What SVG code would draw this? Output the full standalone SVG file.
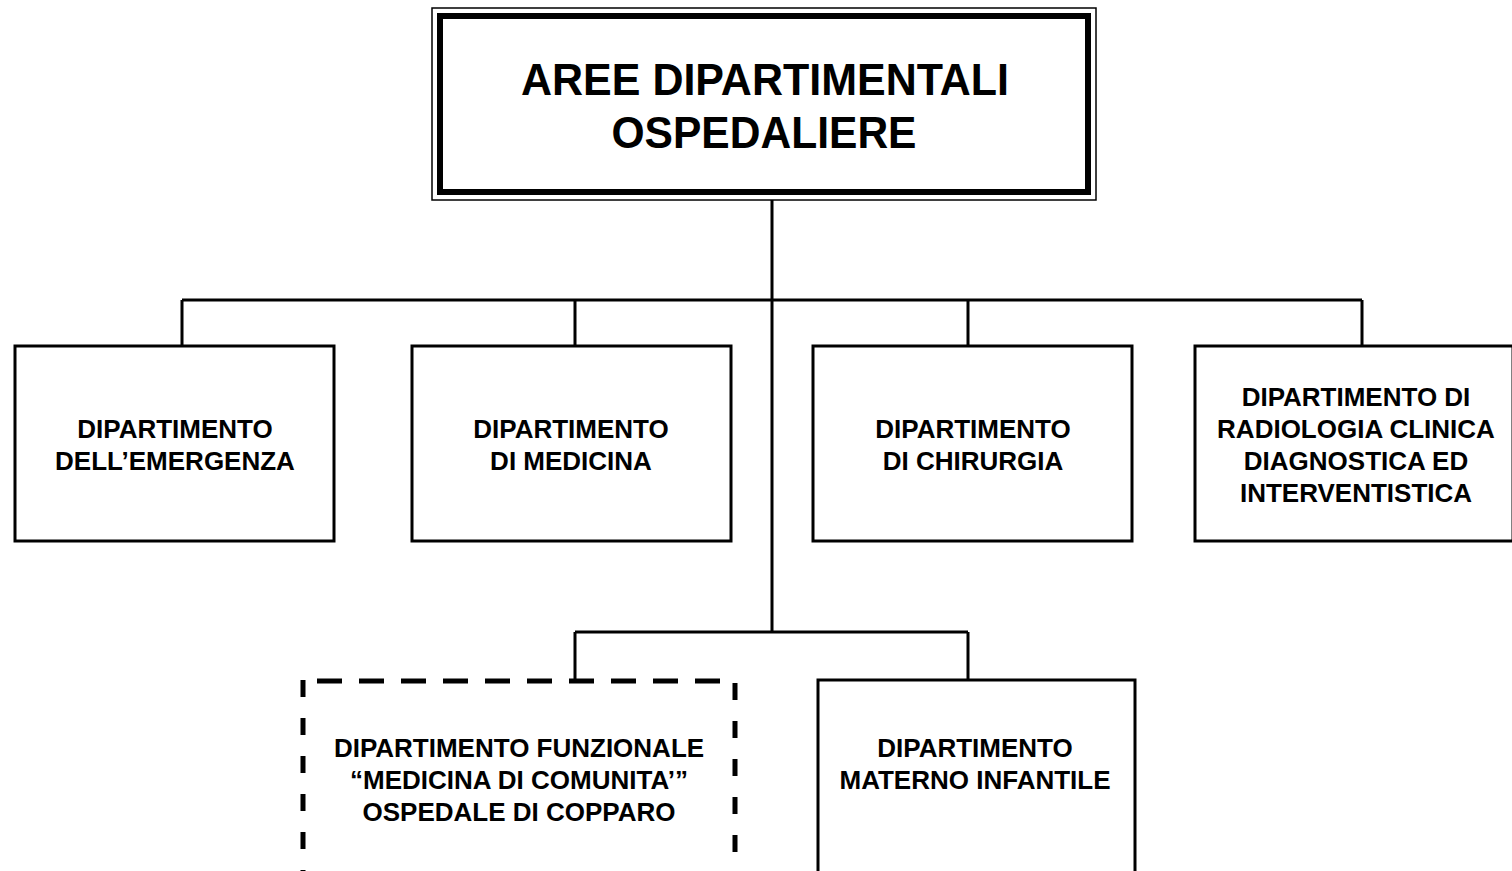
<svg xmlns="http://www.w3.org/2000/svg" width="1512" height="871" viewBox="0 0 1512 871">
<style>
.box{fill:#fff;stroke:#000;stroke-width:3}
.dh{fill:none;stroke:#000;stroke-width:5;stroke-dasharray:25 17}
.dv{fill:none;stroke:#000;stroke-width:5;stroke-dasharray:17 21}
.ln{fill:none;stroke:#000;stroke-width:3}
.t{font-family:"Liberation Sans",Arial,sans-serif;font-weight:bold;font-size:26px;text-anchor:middle;fill:#000}
.tt{font-family:"Liberation Sans",Arial,sans-serif;font-weight:bold;font-size:44px;text-anchor:middle;fill:#000}
</style>
<rect width="1512" height="871" fill="#fff"/>
<g id="connectors">
<path class="ln" d="M772 192V632M182 300H1362M182 300V346M575 300V346M968 300V346M1362 300V346M575 632H968M575 632V680M968 632V680"/>
</g>
<g id="root">
<rect x="432" y="8" width="664" height="192" fill="#fff" stroke="#000" stroke-width="1.5"/>
<rect x="440" y="16" width="648" height="176" fill="none" stroke="#000" stroke-width="6"/>
<text class="tt" x="765" y="95" textLength="488" lengthAdjust="spacingAndGlyphs">AREE DIPARTIMENTALI</text>
<text class="tt" x="764" y="148" textLength="305" lengthAdjust="spacingAndGlyphs">OSPEDALIERE</text>
</g>
<g id="emergenza">
<rect class="box" x="15" y="346" width="319" height="195"/>
<text class="t" x="175" y="438">DIPARTIMENTO</text>
<text class="t" x="175" y="470">DELL’EMERGENZA</text>
</g>
<g id="medicina">
<rect class="box" x="412" y="346" width="319" height="195"/>
<text class="t" x="571" y="438">DIPARTIMENTO</text>
<text class="t" x="571" y="470">DI MEDICINA</text>
</g>
<g id="chirurgia">
<rect class="box" x="813" y="346" width="319" height="195"/>
<text class="t" x="973" y="438">DIPARTIMENTO</text>
<text class="t" x="973" y="470">DI CHIRURGIA</text>
</g>
<g id="radiologia">
<rect class="box" x="1195" y="346" width="318" height="195"/>
<text class="t" x="1356" y="406">DIPARTIMENTO DI</text>
<text class="t" x="1356" y="438">RADIOLOGIA CLINICA</text>
<text class="t" x="1356" y="470">DIAGNOSTICA ED</text>
<text class="t" x="1356" y="502">INTERVENTISTICA</text>
</g>
<g id="comunita">
<path class="dh" d="M317 681H735"/>
<path class="dv" d="M303 680V871M735 683V871"/>
<text class="t" x="519" y="757">DIPARTIMENTO FUNZIONALE</text>
<text class="t" x="519" y="789">“MEDICINA DI COMUNITA’”</text>
<text class="t" x="519" y="821">OSPEDALE DI COPPARO</text>
</g>
<g id="materno">
<rect class="box" x="818" y="680" width="317" height="220"/>
<text class="t" x="975" y="757">DIPARTIMENTO</text>
<text class="t" x="975" y="789">MATERNO INFANTILE</text>
</g>
</svg>
